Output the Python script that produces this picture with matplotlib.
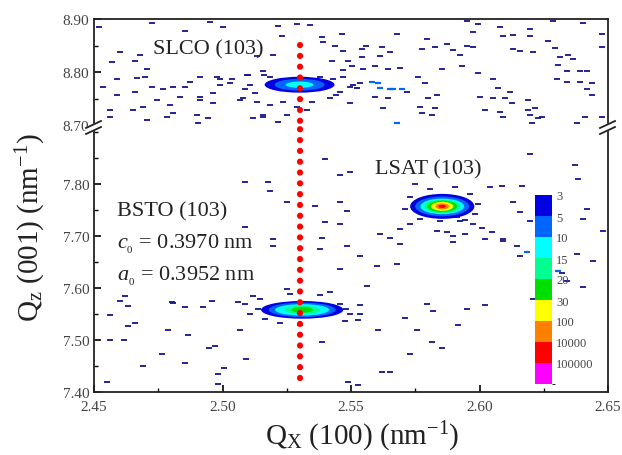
import matplotlib
matplotlib.use("Agg")
import matplotlib.pyplot as plt
from matplotlib.colors import ListedColormap, BoundaryNorm
from matplotlib.cm import ScalarMappable
from matplotlib.patches import Ellipse, Polygon
from matplotlib.lines import Line2D
from matplotlib.ticker import MultipleLocator

plt.rcParams["font.family"] = "Liberation Serif"
plt.rcParams["mathtext.fontset"] = "custom"
plt.rcParams["mathtext.rm"] = "Liberation Serif"
plt.rcParams["mathtext.it"] = "Liberation Serif:italic"

# intensity levels of the map (counts) and colour of each band
levels = [3, 5, 10, 15, 20, 30, 100, 10000, 100000, 1000000]
level_labels = ["3", "5", "10", "15", "20", "30", "100", "10000", "100000"]
level_colors = ["#0000e0", "#0066ff", "#00ffff", "#00ff90", "#00e000",
                "#ffff00", "#ff8000", "#ff0000", "#ff00ff"]
pixel_color = "#14148c"   # how single low-count pixels look on the map

# peaks: centre (Qx, Qz) and contour half widths (dQx, dQz) from the outer level inwards
peak_names = ["SLCO (103)", "BSTO (103)", "LSAT (103)"]
peak_qx = [2.530, 2.531, 2.5855]
peak_qz = [8.776, 7.558, 7.757]
peak_widths = [
    [(0.0136, 0.015), (0.0097, 0.011), (0.0054, 0.006)],
    [(0.0160, 0.017), (0.0130, 0.014), (0.0105, 0.011), (0.0068, 0.0080), (0.0042, 0.0055)],
    [(0.0125, 0.024), (0.0105, 0.019), (0.0085, 0.0150), (0.0070, 0.013), (0.0058, 0.011),
     (0.0043, 0.0087), (0.0027, 0.0058), (0.0015, 0.0030)],
]

# isolated low-count pixels (Qx, Qz)
noise_qx = [2.452, 2.4726, 2.4854, 2.4951, 2.5002, 2.457, 2.460, 2.468, 2.466, 2.4706,
            2.470, 2.459, 2.4667, 2.4535, 2.459, 2.466, 2.4725, 2.477, 2.4807, 2.4854,
            2.4873, 2.4912, 2.4978, 2.5029, 2.4963, 2.4912, 2.4835, 2.4745, 2.4562, 2.4652,
            2.469, 2.4796, 2.4912, 2.4963, 2.4807, 2.490, 2.4944, 2.4905, 2.4562, 2.4706,
            2.4784, 2.5087, 2.5068, 2.5119, 2.5157, 2.5216, 2.5231, 2.5216, 2.529, 2.5134,
            2.5196, 2.5157, 2.5095, 2.499,
            2.534, 2.5387, 2.539, 2.5464, 2.5437, 2.5468, 2.5542, 2.556, 2.562, 2.5651,
            2.5678, 2.5542, 2.5612, 2.5426, 2.5488, 2.5504, 2.5546, 2.5593, 2.5644, 2.569,
            2.5468, 2.5508, 2.5523, 2.5593, 2.5644, 2.5496,
            2.5624, 2.5768, 2.5776, 2.5815, 2.580, 2.5827, 2.5834, 2.576, 2.5788,
            2.5776, 2.5827, 2.5795, 2.5873, 2.5897, 2.5951, 2.5974, 2.5924, 2.5932, 2.5994,
            2.5854, 2.5974, 2.5994, 2.5951, 2.608, 2.6091, 2.613, 2.6196, 2.6196, 2.6266,
            2.6293, 2.613, 2.6157, 2.6208, 2.6313, 2.6344, 2.6363, 2.6286, 2.6402, 2.6476,
            2.6476, 2.6305, 2.634, 2.6391, 2.6418, 2.6301, 2.634, 2.6391, 2.6437, 2.6072,
            2.6118, 2.6052, 2.6099, 2.6126, 2.608, 2.6021, 2.6091, 2.6188, 2.6188, 2.6215,
            2.6196, 2.6227, 2.6243, 2.6204, 2.6418, 2.6437, 2.6379, 2.641, 2.6476, 2.6052,
            2.6002,
            2.499, 2.5037, 2.510, 2.5107, 2.508, 2.5134, 2.5185, 2.5235, 2.529, 2.535,
            2.5418, 2.5457, 2.5496, 2.5535, 2.5717, 2.5157, 2.525, 2.5328, 2.538, 2.543,
            2.5185, 2.5126, 2.5470, 2.5160, 2.5440,
            2.5087, 2.5177, 2.525, 2.5185, 2.5087, 2.5196, 2.5196, 2.462, 2.5119, 2.525,
            2.4807, 2.4562, 2.460, 2.4632, 2.4803, 2.4854, 2.4924, 2.4959, 2.506, 2.4632,
            2.4659, 2.4788, 2.4866, 2.5068, 2.4562, 2.4617, 2.4765, 2.4947, 2.4971, 2.509,
            2.4854, 2.469, 2.5006, 2.4982, 2.455, 2.4982, 2.5535, 2.5535, 2.5527, 2.5605,
            2.571, 2.5757, 2.5795, 2.5819, 2.5951, 2.6021, 2.5916, 2.5815, 2.5854, 2.5387,
            2.5729, 2.562, 2.5651, 2.5488, 2.5527,
            2.5087, 2.5107, 2.5146, 2.5457, 2.5496, 2.5476, 2.5301, 2.5224, 2.5379, 2.5262,
            2.5165, 2.5140, 2.5480,
            2.5399, 2.5496, 2.5457, 2.536, 2.5457, 2.5484, 2.5399, 2.5457, 2.5387, 2.5484,
            2.5535, 2.5601, 2.5678, 2.5651, 2.569, 2.5612, 2.569, 2.5729, 2.5834, 2.5873,
            2.5897, 2.5897, 2.5943, 2.6021, 2.6091, 2.6157, 2.613, 2.6087, 2.604, 2.6165,
            2.6196, 2.6371, 2.6383, 2.6418, 2.6402, 2.648, 2.6441, 2.6379, 2.6196, 2.634,
            2.6402, 2.6208, 2.6157, 2.5562, 2.5418, 2.5379, 2.5457,
            2.573, 2.571, 2.5749, 2.5807, 2.5904, 2.5963, 2.5994, 2.5982, 2.5768, 2.5846,
            2.5924,
            2.5912, 2.5943, 2.5974, 2.6009, 2.6048, 2.6091, 2.6146, 2.632]
noise_qz = [8.885, 8.892, 8.877, 8.894, 8.885, 8.818, 8.837, 8.833, 8.820, 8.805,
            8.790, 8.786, 8.788, 8.772, 8.757, 8.763, 8.772, 8.767, 8.772, 8.772,
            8.782, 8.791, 8.791, 8.780, 8.761, 8.753, 8.753, 8.748, 8.729, 8.729,
            8.734, 8.738, 8.748, 8.741, 8.723, 8.719, 8.713, 8.703, 8.715, 8.710,
            8.715, 8.767, 8.748, 8.713, 8.719, 8.706, 8.868, 8.887, 8.890, 8.830,
            8.833, 8.801, 8.795, 8.786,
            8.889, 8.866, 8.856, 8.871, 8.849, 8.839, 8.843, 8.849, 8.847, 8.837,
            8.871, 8.828, 8.830, 8.820, 8.820, 8.811, 8.805, 8.811, 8.805, 8.808,
            8.803, 8.776, 8.770, 8.753, 8.751, 8.742,
            8.732, 8.734, 8.723, 8.719, 8.751, 8.732, 8.757, 8.791, 8.780,
            8.843, 8.847, 8.862, 8.852, 8.841, 8.849, 8.847, 8.833, 8.811, 8.799,
            8.805, 8.875, 8.890, 8.896, 8.885, 8.868, 8.870, 8.881, 8.868, 8.858,
            8.845, 8.843, 8.839, 8.837, 8.828, 8.833, 8.824, 8.896, 8.892, 8.871,
            8.847, 8.814, 8.801, 8.801, 8.801, 8.786, 8.782, 8.782, 8.780, 8.770,
            8.763, 8.751, 8.751, 8.741, 8.725, 8.729, 8.715, 8.748, 8.729, 8.732,
            8.719, 8.713, 8.715, 8.704, 8.767, 8.757, 8.704, 8.715, 8.715, 8.786,
            8.753,
            8.776, 8.786, 8.795, 8.776, 8.751, 8.744, 8.738, 8.744, 8.734, 8.744,
            8.751, 8.763, 8.772, 8.780, 8.763, 8.715, 8.719, 8.729, 8.790, 8.786,
            8.790, 8.760, 8.790, 8.794, 8.757,
            7.804, 7.804, 7.765, 7.787, 7.717, 7.694, 7.681, 7.585, 7.585, 7.598,
            7.571, 7.548, 7.575, 7.565, 7.573, 7.563, 7.563, 7.575, 7.573, 7.527,
            7.533, 7.519, 7.510, 7.519, 7.500, 7.500, 7.473, 7.485, 7.488, 7.463,
            7.456, 7.450, 7.446, 7.435, 7.419, 7.415, 7.567, 7.550, 7.538, 7.519,
            7.542, 7.519, 7.569, 7.556, 7.560, 7.567, 7.529, 7.496, 7.485, 7.496,
            7.473, 7.438, 7.438, 7.419, 7.413,
            7.569, 7.550, 7.579, 7.569, 7.550, 7.537, 7.529, 7.533, 7.587, 7.588,
            7.540, 7.560, 7.560,
            7.848, 7.823, 7.817, 7.758, 7.765, 7.748, 7.727, 7.723, 7.696, 7.681,
            7.662, 7.642, 7.646, 7.696, 7.685, 7.704, 7.713, 7.723, 7.710, 7.708,
            7.700, 7.688, 7.704, 7.694, 7.690, 7.746, 7.765, 7.796, 7.794, 7.796,
            7.858, 7.837, 7.810, 7.752, 7.733, 7.710, 7.652, 7.665, 7.729, 7.613,
            7.602, 7.579, 7.662, 7.604, 7.592, 7.675, 7.637,
            7.775, 7.752, 7.800, 7.790, 7.794, 7.781, 7.762, 7.742, 7.733, 7.729,
            7.729,
            7.737, 7.731, 7.723, 7.715, 7.708, 7.694, 7.681, 7.629]

# brighter (level 5) pixels: SLCO tail and LSAT streak
bright_qx = [2.5581, 2.5605, 2.5651, 2.570, 2.5612, 2.5663, 2.5678, 2.6184, 2.6305]
bright_qz = [8.782, 8.780, 8.768, 8.768, 8.770, 8.767, 8.704, 7.669, 7.633]

# BSTO lattice constants and the vertical guide line
bsto_text = ["BSTO (103)", r"$c_{_0}$ = 0.3970 nm", r"$a_{_0}$ = 0.3952 nm"]
guide_qx = 2.53
guide_qz = [7.427, 8.861]

cmap = ListedColormap(level_colors)
norm = BoundaryNorm(levels, cmap.N)

fig = plt.figure(figsize=(6.22, 4.56), dpi=100)
W, H = 622, 456
left, right = 94 / W, 608 / W
y_top, y_break, y_bot = 1 - 20 / H, 1 - 126 / H, 1 - 393 / H
ax_top = fig.add_axes([left, y_break, right - left, y_top - y_break])
ax_bot = fig.add_axes([left, y_bot, right - left, y_break - y_bot])

ax_top.set_ylim(8.70, 8.90)
ax_bot.set_ylim(7.40, 7.40 + (393 - 126) / 520)
for ax in (ax_top, ax_bot):
    ax.set_xlim(2.45, 2.65)
    ax.scatter(noise_qx, noise_qz, color=pixel_color, marker="_", s=16,
               linewidths=1.3, zorder=1)
    ax.scatter(bright_qx, bright_qz, color=level_colors[1], marker="_", s=16,
               linewidths=1.6, zorder=1)
    for qx, qz, widths in zip(peak_qx, peak_qz, peak_widths):
        for lev, (wx, wz) in zip(levels, widths):
            ax.add_patch(Ellipse((qx, qz), 2 * wx, 2 * wz, color=cmap(norm(lev)),
                                 lw=0, zorder=2))
    ax.plot([guide_qx, guide_qx], guide_qz, color="red", lw=4.5,
            linestyle=(0, (0.01, 1.72)), dash_capstyle="round", zorder=5)
    for s in ax.spines.values():
        s.set_linewidth(1.3)
        s.set_color("#222222")
    ax.tick_params(direction="in", labelsize=11, labelcolor="#444444", length=5, width=1.2,
                   top=False, right=False)
    ax.tick_params(which="minor", direction="in", length=3, width=1.0, top=False, right=False)
    ax.yaxis.set_major_locator(MultipleLocator(0.1))
    ax.yaxis.set_minor_locator(MultipleLocator(0.05))
    ax.yaxis.set_major_formatter(lambda v, p: f"{v:.2f}")

ax_top.spines["bottom"].set_visible(False)
ax_top.tick_params(axis="x", which="both", bottom=False, labelbottom=False)
ax_bot.spines["top"].set_visible(False)
ax_bot.xaxis.set_major_locator(MultipleLocator(0.05))
ax_bot.xaxis.set_minor_locator(MultipleLocator(0.025))
ax_bot.xaxis.set_major_formatter(lambda v, p: f"{v:.2f}")
ax_bot.tick_params(axis="x", pad=6)
ax_bot.set_yticks([7.40, 7.50, 7.60, 7.70, 7.80])

# peak labels
ax_top.text(2.473, 8.843, peak_names[0], fontsize=16, va="center", color="#222222")
ax_bot.text(2.5593, 7.829, peak_names[2], fontsize=16, va="center", color="#222222")
for i, t in enumerate(bsto_text):
    ax_bot.text(2.459, 7.748 - 0.062 * i, t, fontsize=16, va="center", color="#222222")

fig.text(362 / W, 1 - 437 / H, r"Q$_\mathrm{X}$ (100) (nm$^{-1}$)", fontsize=21,
         ha="center", va="center", color="#222222")
fig.text(31 / W, 1 - 228 / H, r"Q$_\mathrm{z}$ (001) (nm$^{-1}$)", fontsize=21,
         ha="center", va="center", rotation=90, color="#222222")

# axis break marks on both sides
for xs in (left, right):
    xp = xs * W
    pa = [(xp - 8, 129), (xp + 7, 122)]
    pb = [(xp - 8, 135), (xp + 7, 128)]
    to_fig = lambda pts: [(x / W, 1 - y / H) for x, y in pts]
    fig.add_artist(Polygon(to_fig(pa + pb[::-1]), closed=True, color="white", zorder=10))
    for pts in (pa, pb):
        f = to_fig(pts)
        fig.add_artist(Line2D([f[0][0], f[1][0]], [f[0][1], f[1][1]], color="#222222",
                              lw=1.3, zorder=11))

# colour scale
cax = fig.add_axes([535 / W, 1 - 385 / H, 17 / W, (385 - 196) / H])
cb = fig.colorbar(ScalarMappable(norm=norm, cmap=cmap), cax=cax, ticks=levels[:-1],
                  spacing="uniform")
cb.ax.invert_yaxis()
cb.outline.set_visible(False)
cb.set_ticklabels(level_labels)
cax.tick_params(length=0, labelsize=9, pad=3, labelcolor="#444444")

fig.savefig("out.png", dpi=100)
